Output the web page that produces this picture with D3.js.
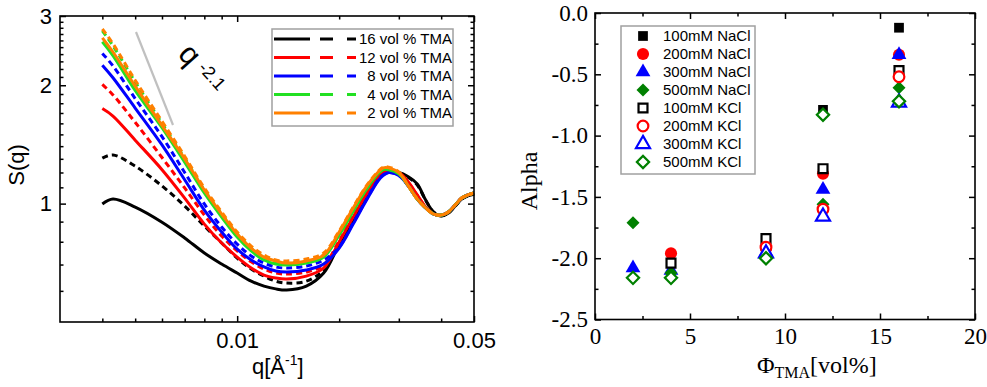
<!DOCTYPE html>
<html lang="en">
<head>
<meta charset="utf-8">
<title>S(q) and Alpha</title>
<script src="https://cdnjs.cloudflare.com/ajax/libs/d3/7.8.5/d3.min.js"></script>
<style>
  body { margin: 0; background: #fff; }
  svg { display: block; }
</style>
</head>
<body>
<script>
// ---- left panel data: S(q) for five TMA fractions, solid and dashed runs
var qGrid = [0.004, 0.0043, 0.005, 0.006, 0.007, 0.008, 0.009, 0.010, 0.011, 0.012, 0.013, 0.014, 0.016, 0.018, 0.020,
  0.022, 0.024, 0.026, 0.027, 0.028, 0.030, 0.032, 0.034, 0.036, 0.038, 0.040, 0.042, 0.044, 0.046, 0.048, 0.050];

var tma16 = [0.998, 1.027, 0.98, 0.897, 0.818, 0.749, 0.702, 0.666, 0.635, 0.617, 0.607, 0.603, 0.617, 0.666,
  0.789, 0.913, 1.046, 1.155, 1.19, 1.20, 1.20, 1.17, 1.122, 1.021, 0.952, 0.93, 0.946, 0.986, 1.027, 1.046, 1.058];
var tma16d = [1.305, 1.33, 1.245, 1.109, 0.986, 0.877, 0.794, 0.727, 0.682, 0.654, 0.635, 0.628, 0.635, 0.678,
  0.795, 0.918, 1.05, 1.158, 1.19, 1.20, 1.195, 1.165, 1.115, 1.02, 0.952, 0.932, 0.946, 0.986, 1.027, 1.046, 1.058];
var tma12 = [1.745, 1.67, 1.45, 1.22, 1.033, 0.887, 0.794, 0.731, 0.686, 0.658, 0.647, 0.643, 0.654, 0.686,
  0.799, 0.924, 1.052, 1.16, 1.20, 1.21, 1.20, 1.135, 1.052, 0.98, 0.941, 0.935, 0.952, 0.992, 1.033, 1.052, 1.064];
var tma12d = [2.01, 1.89, 1.61, 1.31, 1.096, 0.935, 0.827, 0.758, 0.711, 0.682, 0.666, 0.662, 0.670, 0.698,
  0.805, 0.93, 1.056, 1.162, 1.20, 1.21, 1.198, 1.13, 1.05, 0.98, 0.941, 0.935, 0.952, 0.992, 1.033, 1.052, 1.064];
var tma8 = [2.25, 2.09, 1.75, 1.41, 1.15, 0.963, 0.847, 0.766, 0.719, 0.690, 0.674, 0.670, 0.678, 0.702,
  0.771, 0.887, 1.015, 1.14, 1.18, 1.20, 1.18, 1.109, 1.027, 0.975, 0.941, 0.935, 0.952, 0.992, 1.033, 1.052, 1.064];
var tma8d = [2.41, 2.24, 1.85, 1.48, 1.20, 0.998, 0.872, 0.789, 0.736, 0.706, 0.690, 0.686, 0.694, 0.719,
  0.776, 0.893, 1.02, 1.145, 1.185, 1.20, 1.18, 1.109, 1.027, 0.975, 0.941, 0.935, 0.952, 0.992, 1.033, 1.052, 1.064];
var tma4 = [2.58, 2.38, 1.94, 1.56, 1.275, 1.064, 0.924, 0.822, 0.758, 0.719, 0.702, 0.698, 0.706, 0.731,
  0.832, 0.957, 1.083, 1.19, 1.22, 1.22, 1.19, 1.109, 1.027, 0.975, 0.941, 0.935, 0.952, 0.992, 1.033, 1.052, 1.064];
var tma4d = [2.75, 2.52, 2.04, 1.60, 1.305, 1.083, 0.941, 0.837, 0.771, 0.731, 0.711, 0.706, 0.715, 0.740,
  0.836, 0.96, 1.086, 1.192, 1.222, 1.222, 1.19, 1.109, 1.027, 0.975, 0.941, 0.935, 0.952, 0.992, 1.033, 1.052, 1.064];
var tma2 = [2.64, 2.43, 1.99, 1.58, 1.30, 1.083, 0.941, 0.837, 0.771, 0.731, 0.715, 0.706, 0.715, 0.740,
  0.847, 0.975, 1.102, 1.20, 1.233, 1.233, 1.20, 1.109, 1.027, 0.975, 0.941, 0.935, 0.952, 0.992, 1.033, 1.052, 1.064];
var tma2d = [2.78, 2.55, 2.06, 1.62, 1.32, 1.096, 0.952, 0.847, 0.78, 0.740, 0.719, 0.715, 0.723, 0.749,
  0.852, 0.98, 1.106, 1.205, 1.238, 1.238, 1.205, 1.109, 1.027, 0.975, 0.941, 0.935, 0.952, 0.992, 1.033, 1.052, 1.064];

var tmaLabels = ["16 vol % TMA", "12 vol % TMA", "8 vol % TMA", "4 vol % TMA", "2 vol % TMA"];
var sqMajor = [1, 2, 3];
var sqMinor = [0.6, 0.7, 0.8, 0.9, 1.1, 1.2, 1.3, 1.4, 1.5, 1.6, 1.7, 1.8, 1.9, 2.1, 2.2, 2.3, 2.4, 2.5, 2.6, 2.7, 2.8, 2.9];
var qMajor = [0.01, 0.05];
var qMinor = [0.004, 0.005, 0.006, 0.007, 0.008, 0.009, 0.02, 0.03, 0.04];

// ---- right panel data: Alpha vs TMA fraction
var phiTMA = [2, 4, 9, 12, 16];
var naCl100 = [null, null, -1.85, -0.79, -0.12];
var naCl200 = [null, -1.96, -1.92, -1.31, -0.34];
var naCl300 = [-2.08, -2.10, -1.95, -1.44, -0.34];
var naCl500 = [-1.71, -2.12, -2.00, -1.56, -0.61];
var kCl100 = [null, -2.04, -1.84, -1.27, -0.47];
var kCl200 = [null, null, -1.91, -1.60, -0.52];
var kCl300 = [null, null, -1.96, -1.66, -0.73];
var kCl500 = [-2.16, -2.16, -2.00, -0.83, -0.72];
var saltLabels = ["100mM NaCl", "200mM NaCl", "300mM NaCl", "500mM NaCl", "100mM KCl", "200mM KCl", "300mM KCl", "500mM KCl"];
var alphaMajor = [-2.5, -2.0, -1.5, -1.0, -0.5, 0.0];
var alphaMinor = [-2.25, -1.75, -1.25, -0.75, -0.25];
var phiMajor = [0, 5, 10, 15, 20];
var phiMinor = [2.5, 7.5, 12.5, 17.5];

var sans = "'Liberation Sans', Arial, sans-serif";
var serif = "'Liberation Serif', 'Times New Roman', serif";

var svg = d3.select("body").append("svg")
    .attr("width", 987)
    .attr("height", 387);

// helper: ticks pointing inward, no domain line (frame is drawn separately)
function axisTicks(axisFn, scale, transform, values, size, fmt, pad, font, fontSize) {
    var g = svg.append("g")
        .attr("transform", transform)
        .call(axisFn(scale).tickValues(values).tickSize(size).tickSizeOuter(0)
            .tickPadding(pad).tickFormat(fmt));
    g.select(".domain").remove();
    g.attr("font-family", font).attr("font-size", fontSize);
    g.selectAll("line").attr("stroke-width", 1.5);
    return g;
}
var noLabel = function() { return ""; };

// ================= left panel =================
var xL = d3.scaleLog().domain([0.003, 0.05]).range([60, 474]);
var yL = d3.scaleLog().domain([0.5, 3]).range([322, 16]);

axisTicks(d3.axisBottom, xL, "translate(0,322)", qMajor, -6, function(d) { return d.toFixed(2); }, 10, sans, 22);
axisTicks(d3.axisBottom, xL, "translate(0,322)", qMinor, -3.5, noLabel, 10, sans, 22);
axisTicks(d3.axisTop, xL, "translate(0,16)", qMajor, -6, noLabel, 3, sans, 22);
axisTicks(d3.axisTop, xL, "translate(0,16)", qMinor, -3.5, noLabel, 3, sans, 22);
axisTicks(d3.axisLeft, yL, "translate(60,0)", sqMajor, -6, d3.format("d"), 8, sans, 22);
axisTicks(d3.axisLeft, yL, "translate(60,0)", sqMinor, -3.5, noLabel, 8, sans, 22);
axisTicks(d3.axisRight, yL, "translate(474,0)", sqMajor, -6, noLabel, 3, sans, 22);
axisTicks(d3.axisRight, yL, "translate(474,0)", sqMinor, -3.5, noLabel, 3, sans, 22);

var curveSets = [
    { label: tmaLabels[0], color: "#000000", solid: tma16, dashed: tma16d },
    { label: tmaLabels[1], color: "#ff0000", solid: tma12, dashed: tma12d },
    { label: tmaLabels[2], color: "#0000ff", solid: tma8, dashed: tma8d },
    { label: tmaLabels[3], color: "#22e022", solid: tma4, dashed: tma4d },
    { label: tmaLabels[4], color: "#ff8000", solid: tma2, dashed: tma2d }
];

var line = d3.line()
    .x(function(d, i) { return xL(qGrid[i]); })
    .y(function(d) { return yL(d); })
    .curve(d3.curveCatmullRom.alpha(0.5));

curveSets.forEach(function(c) {
    svg.append("path").datum(c.solid)
        .attr("d", line).attr("fill", "none")
        .attr("stroke", c.color).attr("stroke-width", 3);
    svg.append("path").datum(c.dashed)
        .attr("d", line).attr("fill", "none")
        .attr("stroke", c.color).attr("stroke-width", 3)
        .attr("stroke-dasharray", "6,4");
});

// slope guide q^-2.1
svg.append("line")
    .attr("x1", 136).attr("y1", 32).attr("x2", 173).attr("y2", 125)
    .attr("stroke", "#c0c0c0").attr("stroke-width", 2.2);
var slopeText = svg.append("text")
    .attr("transform", "translate(177,55) rotate(48)")
    .attr("font-family", sans).attr("font-size", 30);
slopeText.append("tspan").text("q");
slopeText.append("tspan").attr("dx", 7).attr("dy", -6).attr("font-size", 18).text("-2.1");

svg.append("rect")
    .attr("x", 60).attr("y", 16).attr("width", 414).attr("height", 306)
    .attr("fill", "none").attr("stroke", "#000").attr("stroke-width", 1.6);

// legend
var legL = svg.append("g").attr("font-family", sans).attr("font-size", 15);
legL.append("rect")
    .attr("x", 272).attr("y", 29).attr("width", 181).attr("height", 97)
    .attr("fill", "#fff").attr("stroke", "#a0a0a0").attr("stroke-width", 1.5);
curveSets.forEach(function(c, i) {
    var y = 39 + i * 18.5;
    legL.append("line").attr("x1", 274).attr("x2", 310).attr("y1", y).attr("y2", y)
        .attr("stroke", c.color).attr("stroke-width", 3);
    legL.append("line").attr("x1", 320).attr("x2", 356).attr("y1", y).attr("y2", y)
        .attr("stroke", c.color).attr("stroke-width", 3).attr("stroke-dasharray", "13,14");
    legL.append("text").attr("x", 452).attr("y", y).attr("dy", "0.35em")
        .attr("text-anchor", "end").text(c.label);
});

svg.append("text")
    .attr("transform", "translate(24,165) rotate(-90)")
    .attr("text-anchor", "middle")
    .attr("font-family", sans).attr("font-size", 22)
    .text("S(q)");
var qLabel = svg.append("text")
    .attr("x", 252).attr("y", 374)
    .attr("font-family", sans).attr("font-size", 22);
qLabel.append("tspan").text("q[Å");
qLabel.append("tspan").attr("dy", -9).attr("font-size", 14).text("-1");
qLabel.append("tspan").attr("dy", 9).text("]");

// ================= right panel =================
var xR = d3.scaleLinear().domain([0, 20]).range([595, 975]);
var yR = d3.scaleLinear().domain([-2.5, 0]).range([319.5, 13]);

axisTicks(d3.axisBottom, xR, "translate(0,319.5)", phiMajor, -6, d3.format("d"), 8, serif, 23);
axisTicks(d3.axisBottom, xR, "translate(0,319.5)", phiMinor, -3.5, noLabel, 8, serif, 23);
axisTicks(d3.axisTop, xR, "translate(0,13)", phiMajor, -6, noLabel, 3, serif, 23);
axisTicks(d3.axisTop, xR, "translate(0,13)", phiMinor, -3.5, noLabel, 3, serif, 23);
axisTicks(d3.axisLeft, yR, "translate(595,0)", alphaMajor, -6, function(d) { return d.toFixed(1); }, 7, serif, 23);
axisTicks(d3.axisLeft, yR, "translate(595,0)", alphaMinor, -3.5, noLabel, 7, serif, 23);
axisTicks(d3.axisRight, yR, "translate(975,0)", alphaMajor, -6, noLabel, 3, serif, 23);
axisTicks(d3.axisRight, yR, "translate(975,0)", alphaMinor, -3.5, noLabel, 3, serif, 23);

var saltSeries = [
    { label: saltLabels[0], values: naCl100, color: "#000000", shape: d3.symbolSquare, size: 95, rot: 0, open: false },
    { label: saltLabels[1], values: naCl200, color: "#ff0000", shape: d3.symbolCircle, size: 115, rot: 0, open: false },
    { label: saltLabels[2], values: naCl300, color: "#0000ff", shape: d3.symbolTriangle, size: 95, rot: 0, open: false },
    { label: saltLabels[3], values: naCl500, color: "#008000", shape: d3.symbolSquare, size: 85, rot: 45, open: false },
    { label: saltLabels[4], values: kCl100, color: "#000000", shape: d3.symbolSquare, size: 80, rot: 0, open: true },
    { label: saltLabels[5], values: kCl200, color: "#ff0000", shape: d3.symbolCircle, size: 90, rot: 0, open: true },
    { label: saltLabels[6], values: kCl300, color: "#0000ff", shape: d3.symbolTriangle, size: 85, rot: 0, open: true },
    { label: saltLabels[7], values: kCl500, color: "#008000", shape: d3.symbolSquare, size: 75, rot: 45, open: true }
];

function styleMarker(sel, s) {
    sel.attr("d", d3.symbol().type(s.shape).size(s.size))
        .attr("fill", s.open ? "#fff" : s.color)
        .attr("stroke", s.color)
        .attr("stroke-width", s.open ? 2.2 : 0);
}

saltSeries.forEach(function(s) {
    var pts = s.values.map(function(v, i) { return { x: phiTMA[i], y: v }; })
        .filter(function(p) { return p.y !== null; });
    svg.append("g").selectAll("path").data(pts).enter().append("path")
        .attr("transform", function(p) {
            return "translate(" + xR(p.x) + "," + yR(p.y) + ") rotate(" + s.rot + ")";
        })
        .call(styleMarker, s);
});

svg.append("rect")
    .attr("x", 595).attr("y", 13).attr("width", 380).attr("height", 306.5)
    .attr("fill", "none").attr("stroke", "#000").attr("stroke-width", 1.6);

var legR = svg.append("g").attr("font-family", sans).attr("font-size", 15);
legR.append("rect")
    .attr("x", 621).attr("y", 26).attr("width", 134).attr("height", 148)
    .attr("fill", "#fff").attr("stroke", "#a0a0a0").attr("stroke-width", 1.5);
saltSeries.forEach(function(s, i) {
    var y = 36 + i * 18;
    legR.append("path")
        .attr("transform", "translate(643," + y + ") rotate(" + s.rot + ")")
        .call(styleMarker, s);
    legR.append("text").attr("x", 663).attr("y", y).attr("dy", "0.35em").text(s.label);
});

svg.append("text")
    .attr("transform", "translate(537,181) rotate(-90)")
    .attr("text-anchor", "middle")
    .attr("font-family", serif).attr("font-size", 24)
    .text("Alpha");
var phiLabel = svg.append("text")
    .attr("x", 757).attr("y", 373)
    .attr("font-family", serif).attr("font-size", 24);
phiLabel.append("tspan").text("Φ");
phiLabel.append("tspan").attr("dy", 5).attr("font-size", 16).text("TMA");
phiLabel.append("tspan").attr("dy", -5).text("[vol%]");
</script>
</body>
</html>
